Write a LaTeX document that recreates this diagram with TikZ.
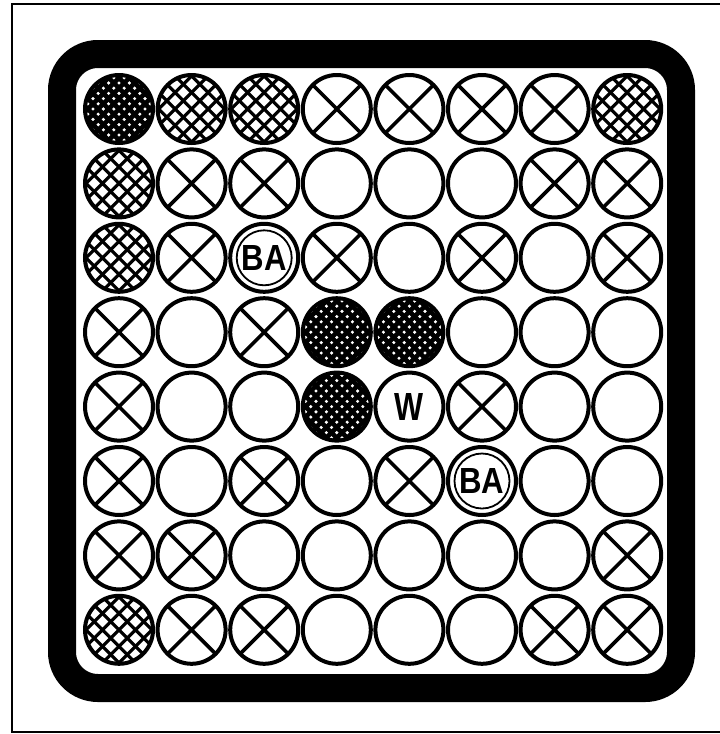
\documentclass[tikz,border=0pt]{standalone}
\usepackage{fontspec}
\newfontfamily\lab{Liberation Sans}
\newcommand\hatchfill[2]{%
  \foreach \k in {-9,...,9}{\draw[line width=#2,shift={(path picture bounding box.center)}]
    (\k*#1-70,-70)--(\k*#1+70,70) (\k*#1-70,70)--(\k*#1+70,-70);}}
\begin{document}
\begin{tikzpicture}[x=1pt,y=-1pt,
  cell/.style={circle,draw,line width=4,minimum size=68,inner sep=0pt,node contents={}},
  cellO/.style={cell},
  cellX/.style={cell,path picture={\draw[line width=3.6]
      (path picture bounding box.north west)--(path picture bounding box.south east)
      (path picture bounding box.north east)--(path picture bounding box.south west);}},
  cellH/.style={cell,path picture={\hatchfill{16.5}{3.2}}},
  cellD/.style={cell,path picture={\hatchfill{10.4}{4.6}}},
  cellB/.style={cell,path picture={\draw[line width=1.8] (path picture bounding box.center) circle (27.5);},
      node contents={\lab\bfseries\resizebox{45pt}{25pt}{BA}}},
  cellW/.style={cell,node contents={\lab\bfseries\resizebox{29pt}{27pt}{W}}},
  frame/.style={line width=28,rounded corners=36},
  border/.style={line width=2.8}]
\useasboundingbox (0,0) rectangle (720,734);
\clip (0,0) rectangle (720,734);
\draw[border] (12,4) rectangle (730,732);
\draw[frame] (62,54) rectangle (681,688);
\foreach \row [count=\r from 0] in {
  {D,H,H,X,X,X,X,H},
  {H,X,X,O,O,O,X,X},
  {H,X,B,X,O,X,O,X},
  {X,O,X,D,D,O,O,O},
  {X,O,O,D,W,X,O,O},
  {X,O,X,O,X,B,O,O},
  {X,X,O,O,O,O,O,X},
  {H,X,X,O,O,O,X,X}}{
  \foreach \t [count=\c from 0] in \row {
    \node (c-\r-\c) at ({119+72.6*\c},{109+74.4*\r}) [style/.expanded={cell\t}];
  }
}
\end{tikzpicture}
\end{document}
